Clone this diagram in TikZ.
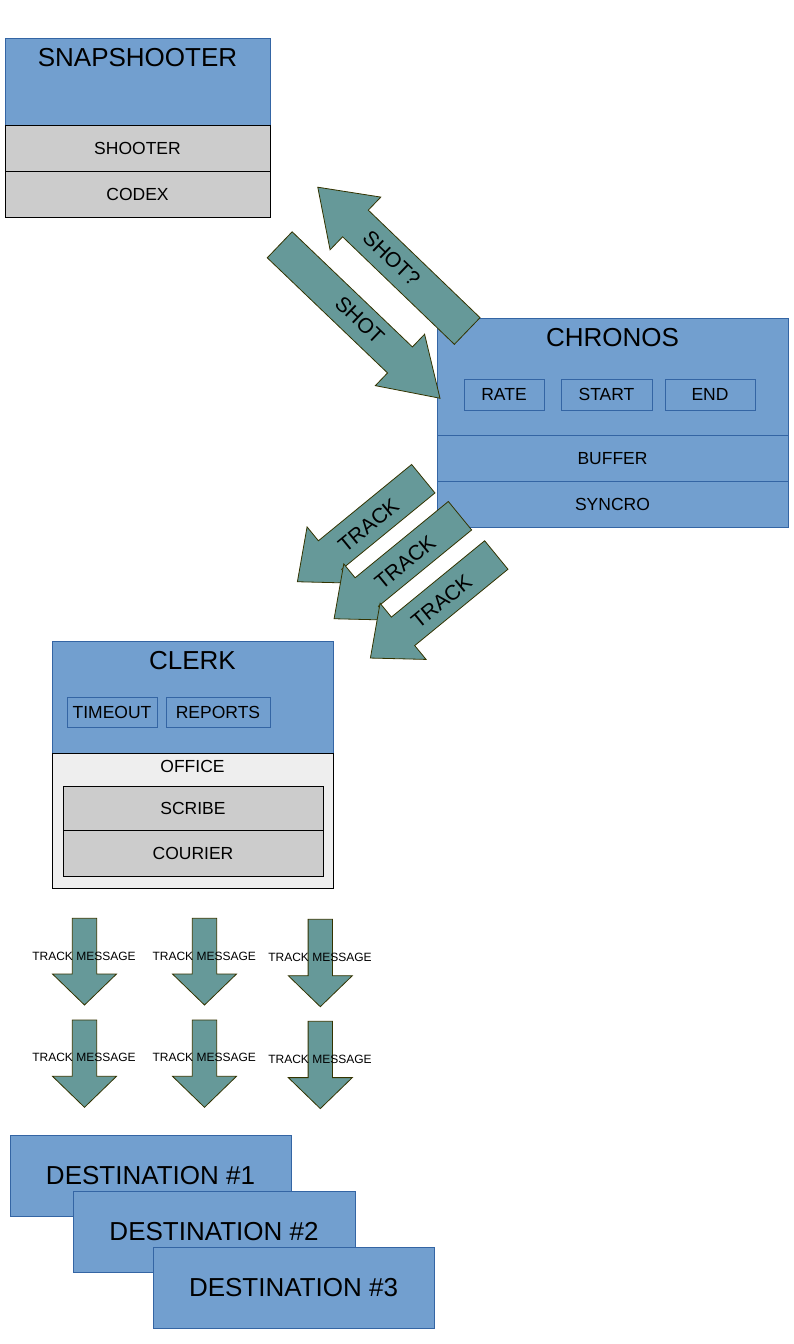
\documentclass[tikz,border=0pt]{standalone}
\usepackage{fontspec}
\setmainfont{Liberation Sans}
\usepackage{tikz}
\usetikzlibrary{positioning}

\definecolor{boxblue}{HTML}{729FCF}
\definecolor{boxedge}{HTML}{3465A4}
\definecolor{boxgray}{HTML}{CCCCCC}
\definecolor{officegray}{HTML}{EEEEEE}
\definecolor{arrowfill}{HTML}{669999}
\definecolor{arrowedge}{HTML}{333300}

% block arrow: tail centre, angle, length, half shaft, half head, head length
\newcommand{\blockarrow}[6]{
	\begin{scope}[shift={(#1)},rotate=#2]
		\draw[arrowbody] (0,#4) -- ({#3-#6},#4) -- ({#3-#6},#5) -- (#3,0) -- ({#3-#6},-#5) -- ({#3-#6},-#4) -- (0,-#4) -- cycle;
	\end{scope}
}

\begin{document}
\begin{tikzpicture}[x=1pt,y=-1pt,line width=1pt,
	bluebox/.style={draw=boxedge,fill=boxblue,outer sep=0pt,inner sep=0pt},
	graybox/.style={draw=black,fill=boxgray,outer sep=0pt,inner sep=0pt},
	officebox/.style={draw=black,fill=officegray,outer sep=0pt,inner sep=0pt},
	titletext/.style={font=\fontsize{26}{30}\selectfont,text height=18.6pt,text depth=0pt},
	itemtext/.style={font=\fontsize{17.5}{20}\selectfont,text height=12.5pt,text depth=0pt},
	arrowtext/.style={font=\fontsize{21}{24}\selectfont,text height=15pt,text depth=0pt,inner sep=0pt},
	msgtext/.style={font=\fontsize{12}{14}\selectfont,text height=8.6pt,text depth=0pt,inner sep=0pt},
	arrowbody/.style={draw=arrowedge,fill=arrowfill,line width=0.8pt}]
		\useasboundingbox (0,0) rectangle (794,1344);
		
		% snapshooter
		\node[bluebox,minimum width=265pt,minimum height=87pt] (snap) at (137.5,81.5) {};
		\node[titletext] (snaptitle) at (137.5,56.7) {SNAPSHOOTER};
		\node[graybox,itemtext,minimum width=265pt,minimum height=46pt] (shooter) at (137.5,148) {SHOOTER};
		\node[graybox,itemtext,minimum width=265pt,minimum height=46pt] (codex) at (137.5,194) {CODEX};
		
		% chronos
		\node[bluebox,minimum width=351pt,minimum height=117pt] (chronos) at (612.5,376.5) {};
		\node[titletext] (chronostitle) at (612.5,336.7) {CHRONOS};
		\node[bluebox,itemtext,minimum width=80pt,minimum height=31pt] (rate) at (504,394.5) {RATE};
		\node[bluebox,itemtext,minimum width=91pt,minimum height=31pt] (start) at (606.5,394.5) {START};
		\node[bluebox,itemtext,minimum width=90pt,minimum height=31pt] (end) at (710,394.5) {END};
		\node[bluebox,itemtext,minimum width=351pt,minimum height=46pt] (buffer) at (612.5,458) {BUFFER};
		\node[bluebox,itemtext,minimum width=351pt,minimum height=46pt] (syncro) at (612.5,504) {SYNCRO};
		
		% clerk
		\node[bluebox,minimum width=281pt,minimum height=112pt] (clerk) at (192.5,697) {};
		\node[titletext] (clerktitle) at (192.5,660) {CLERK};
		\node[bluebox,itemtext,minimum width=90pt,minimum height=30pt] (timeout) at (112,712) {TIMEOUT};
		\node[bluebox,itemtext,minimum width=104pt,minimum height=30pt] (reports) at (218,712) {REPORTS};
		\node[officebox,minimum width=281pt,minimum height=135pt] (office) at (192.5,820.5) {};
		\node[itemtext] (officetitle) at (192.5,766.5) {OFFICE};
		\node[graybox,itemtext,minimum width=260pt,minimum height=44pt] (scribe) at (193,808) {SCRIBE};
		\node[graybox,itemtext,minimum width=260pt,minimum height=46pt] (courier) at (193,853) {COURIER};
		
		% shot arrows
		\blockarrow{279.7,244.8}{-43.75}{221.9}{18}{35.6}{55.4}
		\node[arrowtext,rotate=-43.75] (shot) at (360,320) {SHOT};
		\blockarrow{467.2,331}{136.1}{207.4}{18.5}{36.6}{52.3}
		\node[arrowtext,rotate=-43.9] (shotq) at (391.7,258.3) {SHOT?};
		
		% track arrows
		\foreach \dx/\dy [count=\i] in {0/0,36.7/37,73/76.3}
		{
			\blockarrow{423.3+\dx,478.7+\dy}{219.3}{162.7}{18.4}{36.3}{42.2}
			\node[arrowtext,rotate=39.3] (track\i) at (368.3+\dx,525+\dy) {TRACK};
		}
		
		% track messages
		\foreach \x/\y/\l [count=\i] in {84.5/918.3/86.7,204.5/918.3/86.7,320.3/919.3/87.4,84.5/1020/87.3,204.5/1020/87.3,320.3/1021.3/87.3}
		{
			\blockarrow{\x,\y}{-90}{\l}{12.2}{32}{31}
		}
		\node[msgtext] (msg1) at (84,955.7) {TRACK MESSAGE};
		\node[msgtext] (msg2) at (204.2,955.7) {TRACK MESSAGE};
		\node[msgtext] (msg3) at (320,957.4) {TRACK MESSAGE};
		\node[msgtext] (msg4) at (84,1057.4) {TRACK MESSAGE};
		\node[msgtext] (msg5) at (204.2,1057.4) {TRACK MESSAGE};
		\node[msgtext] (msg6) at (320,1059) {TRACK MESSAGE};
		
		% destinations
		\node[bluebox,titletext,minimum width=281pt,minimum height=81pt] (dest1) at (150.5,1175.5) {DESTINATION \#1};
		\node[bluebox,titletext,minimum width=282pt,minimum height=81pt] (dest2) at (214,1231.5) {DESTINATION \#2};
		\node[bluebox,titletext,minimum width=281pt,minimum height=81pt] (dest3) at (293.5,1287.5) {DESTINATION \#3};
\end{tikzpicture}
\end{document}
